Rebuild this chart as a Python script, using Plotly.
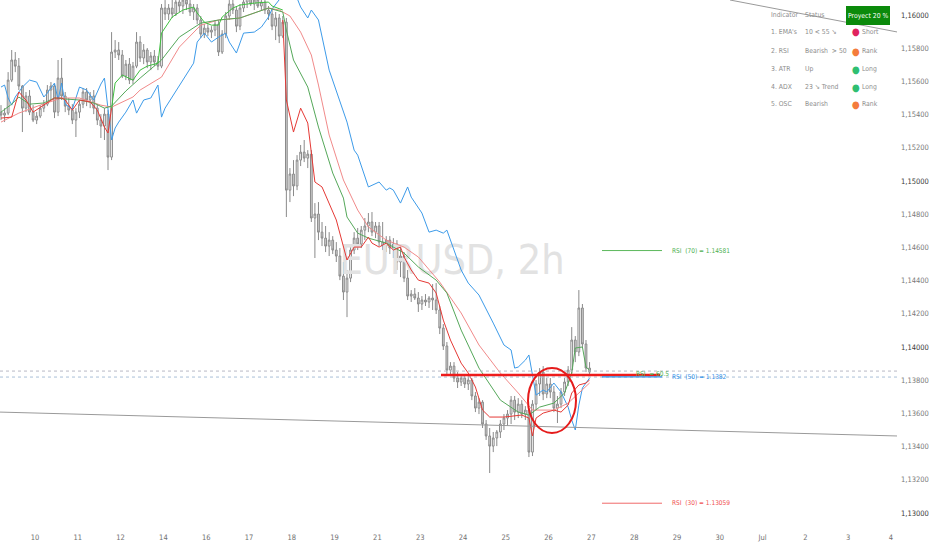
import plotly.graph_objects as go

FONT = "Liberation Sans Narrow, Arial Narrow, DejaVu Sans Condensed, Roboto Condensed, Liberation Sans, sans-serif"

# ---------------- price data (EURUSD 2h) ----------------
opens = [1.15415,1.15397,1.15409,1.15608,1.15729,1.15692,1.15572,1.15439,1.15512,1.15415,
         1.15367,1.15391,1.15439,1.15463,1.15548,1.15572,1.15415,1.15620,1.15512,1.15451,
         1.15427,1.15367,1.15415,1.15463,1.15536,1.15488,1.15512,1.15439,1.15367,1.15331,
         1.15403,1.15144,1.15777,1.15789,1.15759,1.15632,1.15704,1.15608,1.15692,1.15837,
         1.15741,1.15789,1.15717,1.15753,1.15717,1.15692,1.16042,1.16006,1.16042,1.16006,
         1.16078,1.16054,1.16090,1.16066,1.16018,1.16042,1.15970,1.15885,1.15921,1.15897,
         1.15909,1.15945,1.15777,1.15885,1.15994,1.16066,1.16030,1.15933,1.16042,1.16078,
         1.16102,1.16066,1.16090,1.16054,1.16078,1.16030,1.16006,1.15933,1.15982,1.15873,
         1.15957,1.14945,1.15042,1.14970,1.15126,1.15174,1.15138,1.15162,1.14777,1.14801,
         1.14692,1.14656,1.14608,1.14644,1.14584,1.14548,1.14427,1.14331,1.14415,1.14584,
         1.14656,1.14620,1.14704,1.14729,1.14753,1.14692,1.14729,1.14632,1.14608,1.14644,
         1.14596,1.14620,1.14512,1.14548,1.14415,1.14307,1.14319,1.14295,1.14259,1.14283,
         1.14271,1.14295,1.14283,1.14223,1.14114,1.14006,1.13861,1.13885,1.13813,1.13789,
         1.13813,1.13777,1.13801,1.13705,1.13632,1.13668,1.13536,1.13464,1.13403,1.13452,
         1.13488,1.13536,1.13572,1.13596,1.13680,1.13608,1.13656,1.13596,1.13620,1.13367,
         1.13656,1.13777,1.13849,1.13717,1.13777,1.13729,1.13632,1.13656,1.13729,1.13789,
         1.13861,1.14042,1.13970,1.14235,1.14018,1.13873]
highs = [1.15457,1.15439,1.15656,1.15789,1.15777,1.15741,1.15578,1.15536,1.15548,1.15457,
         1.15415,1.15457,1.15488,1.15578,1.15596,1.15584,1.15729,1.15741,1.15536,1.15500,
         1.15463,1.15439,1.15488,1.15560,1.15560,1.15536,1.15548,1.15463,1.15403,1.15439,
         1.15427,1.15897,1.15849,1.15837,1.15789,1.15729,1.15741,1.15717,1.15897,1.15873,
         1.15825,1.15801,1.15777,1.15789,1.15753,1.16066,1.16090,1.16066,1.16102,1.16114,
         1.16126,1.16114,1.16126,1.16102,1.16066,1.16066,1.15994,1.15945,1.15945,1.15933,
         1.15970,1.15970,1.15909,1.16018,1.16090,1.16102,1.16054,1.16066,1.16114,1.16126,
         1.16138,1.16114,1.16126,1.16102,1.16114,1.16054,1.16042,1.16018,1.16006,1.15994,
         1.15982,1.15078,1.15126,1.15156,1.15217,1.15247,1.15186,1.15186,1.14867,1.14873,
         1.14753,1.14729,1.14692,1.14668,1.14632,1.14596,1.14512,1.14464,1.14614,1.14692,
         1.14717,1.14729,1.14777,1.14807,1.14813,1.14753,1.14753,1.14753,1.14668,1.14668,
         1.14656,1.14644,1.14620,1.14572,1.14464,1.14343,1.14355,1.14331,1.14307,1.14319,
         1.14307,1.14379,1.14385,1.14247,1.14138,1.14030,1.13909,1.13909,1.13849,1.13837,
         1.13837,1.13825,1.13813,1.13729,1.13692,1.13680,1.13560,1.13512,1.13488,1.13500,
         1.13560,1.13596,1.13620,1.13705,1.13705,1.13692,1.13680,1.13644,1.13632,1.13680,
         1.13801,1.13873,1.13885,1.13813,1.13813,1.13765,1.13705,1.13753,1.13813,1.13885,
         1.14120,1.14066,1.14343,1.14259,1.14042,1.13909]
lows = [1.15367,1.15355,1.15397,1.15596,1.15656,1.15548,1.15295,1.15415,1.15397,1.15355,
        1.15343,1.15379,1.15415,1.15451,1.15488,1.15379,1.15391,1.15488,1.15415,1.15397,
        1.15343,1.15265,1.15379,1.15439,1.15451,1.15439,1.15403,1.15337,1.15259,1.15247,
        1.15066,1.15126,1.15741,1.15729,1.15620,1.15608,1.15584,1.15584,1.15680,1.15717,
        1.15704,1.15680,1.15668,1.15692,1.15668,1.15680,1.15970,1.15970,1.15982,1.15994,
        1.16018,1.16006,1.16030,1.15994,1.15970,1.15945,1.15861,1.15861,1.15873,1.15861,
        1.15873,1.15753,1.15765,1.15861,1.15970,1.16006,1.15897,1.15909,1.16018,1.16042,
        1.16054,1.16030,1.16042,1.16030,1.16006,1.15970,1.15909,1.15849,1.15831,1.15861,
        1.14783,1.14873,1.14909,1.14945,1.15090,1.15114,1.15078,1.14753,1.14536,1.14644,
        1.14608,1.14572,1.14548,1.14560,1.14512,1.14403,1.14283,1.14180,1.14391,1.14560,
        1.14584,1.14596,1.14644,1.14692,1.14668,1.14656,1.14608,1.14584,1.14572,1.14560,
        1.14536,1.14464,1.14421,1.14391,1.14283,1.14271,1.14283,1.14211,1.14223,1.14247,
        1.14235,1.14223,1.14199,1.14078,1.13982,1.13837,1.13837,1.13789,1.13753,1.13765,
        1.13753,1.13741,1.13680,1.13608,1.13596,1.13512,1.13440,1.13241,1.13367,1.13403,
        1.13452,1.13500,1.13524,1.13536,1.13560,1.13572,1.13572,1.13560,1.13337,1.13343,
        1.13620,1.13705,1.13680,1.13692,1.13692,1.13608,1.13542,1.13632,1.13705,1.13765,
        1.13837,1.13909,1.13945,1.13994,1.13849,1.13825]
closes = [1.15397,1.15409,1.15608,1.15729,1.15692,1.15572,1.15439,1.15512,1.15415,1.15367,
          1.15391,1.15439,1.15463,1.15548,1.15572,1.15415,1.15620,1.15512,1.15451,1.15427,
          1.15367,1.15415,1.15463,1.15536,1.15488,1.15512,1.15439,1.15367,1.15331,1.15403,
          1.15144,1.15777,1.15789,1.15759,1.15632,1.15704,1.15608,1.15692,1.15837,1.15741,
          1.15789,1.15717,1.15753,1.15717,1.15692,1.16042,1.16006,1.16042,1.16006,1.16078,
          1.16054,1.16090,1.16066,1.16018,1.16042,1.15970,1.15885,1.15921,1.15897,1.15909,
          1.15945,1.15777,1.15885,1.15994,1.16066,1.16030,1.15933,1.16042,1.16078,1.16102,
          1.16066,1.16090,1.16054,1.16078,1.16030,1.16006,1.15933,1.15982,1.15873,1.15957,
          1.14945,1.15042,1.14970,1.15126,1.15174,1.15138,1.15162,1.14777,1.14801,1.14692,
          1.14656,1.14608,1.14644,1.14584,1.14548,1.14427,1.14331,1.14415,1.14584,1.14656,
          1.14620,1.14704,1.14729,1.14753,1.14692,1.14729,1.14632,1.14608,1.14644,1.14596,
          1.14620,1.14512,1.14548,1.14415,1.14307,1.14319,1.14295,1.14259,1.14283,1.14271,
          1.14295,1.14283,1.14223,1.14114,1.14006,1.13861,1.13885,1.13813,1.13789,1.13813,
          1.13777,1.13801,1.13705,1.13632,1.13668,1.13536,1.13464,1.13403,1.13452,1.13488,
          1.13536,1.13572,1.13596,1.13680,1.13608,1.13656,1.13596,1.13620,1.13367,1.13656,
          1.13777,1.13849,1.13717,1.13777,1.13729,1.13632,1.13656,1.13729,1.13789,1.13861,
          1.14042,1.13970,1.14235,1.14018,1.13873,1.13849]
bars = list(range(len(closes)))

# ---------------- indicator lines (bar index, price) ----------------
fast_red_a_x = [0, 3, 5, 7, 9, 11, 15, 17, 18, 20, 22, 25, 27, 29, 30, 31]
fast_red_a_y = [1.15379, 1.15385, 1.15536, 1.15488, 1.15415, 1.15445, 1.15500, 1.15500, 1.15488,
                1.15427, 1.15488, 1.15476, 1.15427, 1.15325, 1.15289, 1.15439]

fast_green_x = [31, 32, 34, 37, 39, 41, 44, 45, 48, 51, 54, 55, 57, 59, 61, 62, 65, 67, 71, 75, 76, 79]
fast_green_y = [1.15439, 1.15590, 1.15638, 1.15608, 1.15668, 1.15692, 1.15710, 1.15891, 1.15988,
                1.16030, 1.16048, 1.16012, 1.15957, 1.15939, 1.15939, 1.15988, 1.16042, 1.16060,
                1.16072, 1.16078, 1.16054, 1.16030]

fast_red_b_x = [79, 80, 82, 84, 86, 87, 88, 90, 94, 97, 99, 101, 103, 104, 106, 108, 110, 112, 113, 115,
                117, 120, 122, 124, 126, 129, 131, 133, 135, 137, 141, 146, 148, 149, 150, 152, 155, 157,
                159, 160, 162, 164, 165]
fast_red_b_y = [1.15970, 1.15488, 1.15295, 1.15439, 1.15349, 1.15186, 1.14994, 1.14964, 1.14765, 1.14524,
                1.14602, 1.14602, 1.14662, 1.14626, 1.14602, 1.14626, 1.14584, 1.14602, 1.14542, 1.14464,
                1.14403, 1.14385, 1.14325, 1.14162, 1.14042, 1.13903, 1.13843, 1.13759, 1.13620, 1.13578,
                1.13578, 1.13590, 1.13572, 1.13464, 1.13572, 1.13602, 1.13620, 1.13608, 1.13650, 1.13723,
                1.13771, 1.13783, 1.13801]

mid_green_x = [0, 3, 5, 8, 12, 15, 18, 22, 26, 29, 31, 35, 39, 45, 50, 56, 61, 67, 75, 79, 80, 82, 86, 89,
               93, 96, 97, 100, 103, 108, 113, 117, 122, 125, 129, 134, 140, 145, 148, 151, 155, 158, 160,
               161, 163, 164, 165]
mid_green_y = [1.15415, 1.15463, 1.15506, 1.15463, 1.15470, 1.15500, 1.15494, 1.15488, 1.15470, 1.15439,
               1.15451, 1.15542, 1.15620, 1.15729, 1.15867, 1.15951, 1.15970, 1.15982, 1.16042, 1.16018,
               1.15909, 1.15729, 1.15566, 1.15325, 1.15048, 1.14897, 1.14783, 1.14686, 1.14656, 1.14626,
               1.14566, 1.14482, 1.14403, 1.14325, 1.14102, 1.13873, 1.13680, 1.13608, 1.13590, 1.13638,
               1.13662, 1.13723, 1.13843, 1.13994, 1.14000, 1.13879, 1.13861]

slow_pink_x = [0, 5, 11, 17, 22, 28, 31, 37, 39, 45, 50, 56, 61, 67, 75, 78, 81, 84, 87, 89, 92, 96, 100,
               103, 108, 113, 117, 123, 129, 134, 140, 145, 149, 155, 159, 162, 165]
slow_pink_y = [1.15355, 1.15409, 1.15457, 1.15500, 1.15500, 1.15457, 1.15445, 1.15506, 1.15548, 1.15626,
               1.15807, 1.15939, 1.15970, 1.15982, 1.16042, 1.16030, 1.15994, 1.15897, 1.15759, 1.15578,
               1.15277, 1.15006, 1.14825, 1.14723, 1.14644, 1.14602, 1.14542, 1.14391, 1.14205, 1.14012,
               1.13843, 1.13723, 1.13620, 1.13620, 1.13662, 1.13723, 1.13783]

blue_x = [0, 1, 2, 3, 4, 6, 8, 10, 12, 13, 15, 16, 17, 18, 20, 22, 24, 26, 28, 29, 31, 32, 33, 35, 37, 38,
          40, 42, 44, 45, 46, 48, 51, 54, 55, 57, 59, 61, 63, 64, 66, 68, 71, 73, 75, 76, 79, 81, 83, 84,
          86, 87, 89, 92, 97, 99, 100, 103, 106, 108, 109, 110, 112, 114, 115, 118, 120, 122, 124, 125,
          127, 129, 131, 134, 138, 141, 143, 144, 145, 147, 148, 149, 150, 152, 153, 155, 157, 159, 160,
          161, 162, 163, 165]
blue_y = [1.15566, 1.15578, 1.15500, 1.15457, 1.15506, 1.15566, 1.15608, 1.15596, 1.15506, 1.15530,
          1.15590, 1.15488, 1.15590, 1.15463, 1.15433, 1.15566, 1.15548, 1.15488, 1.15584, 1.15620,
          1.15247, 1.15319, 1.15355, 1.15415, 1.15488, 1.15409, 1.15488, 1.15500, 1.15578, 1.15385,
          1.15439, 1.15506, 1.15608, 1.15710, 1.15837, 1.15891, 1.15837, 1.15867, 1.15891, 1.15837,
          1.15771, 1.15891, 1.15897, 1.15927, 1.15988, 1.16036, 1.16120, 1.16210, 1.16102, 1.16048,
          1.15982, 1.16030, 1.15970, 1.15668, 1.15355, 1.15186, 1.15156, 1.14964, 1.14994, 1.14945,
          1.14958, 1.14945, 1.14867, 1.14964, 1.14903, 1.14807, 1.14692, 1.14704, 1.14686, 1.14704,
          1.14584, 1.14464, 1.14385, 1.14313, 1.14144, 1.14012, 1.13982, 1.13873, 1.13879, 1.13921,
          1.13952, 1.13831, 1.13710, 1.13741, 1.13729, 1.13783, 1.13729, 1.13638, 1.13560, 1.13500,
          1.13650, 1.13753, 1.13813]

# ---------------- levels / labels ----------------
rsi70_level = 1.14581
rsi50_level = 1.1382
rsi30_level = 1.13059
support_level = 1.13831
dotted_levels = [1.13855, 1.13819]
rsi_now = "60.5"

price_ticks = [1.130, 1.132, 1.134, 1.136, 1.138, 1.140, 1.142, 1.144, 1.146, 1.148,
               1.150, 1.152, 1.154, 1.156, 1.158, 1.160]
day_labels = ["10", "11", "12", "14", "16", "17", "18", "19", "21", "23", "24", "25", "26",
              "27", "28", "29", "30", "Jul", "2", "3", "4"]

table_rows = [("1. EMA's", "10 < 55 \u2198", "Short", "#e0245e"),
              ("2. RSI", "Bearish  > 50", "Rank", "#f47c3c"),
              ("3. ATR", "Up", "Long", "#2fbf71"),
              ("4. ADX", "23 \u2198 Trend", "Long", "#2fbf71"),
              ("5. OSC", "Bearish", "Rank", "#f47c3c")]

# ---------------- layout geometry ----------------
W, H = 932, 550
ML, MR, MT, MB = 0, 32, 0, 24
PW, PH = W - ML - MR, H - MT - MB
BAR_PX = 3.567          # pixel spacing of one 2h bar
X0_PX = 1.0             # pixel of bar 0
Y_TOP, Y_BOT = 1.160904, 1.129217

def bx(px):   # pixel x -> bar coordinate
    return (px - X0_PX) / BAR_PX

def pxp(px):  # pixel x -> paper
    return px / PW

def pyp(py):  # pixel y -> paper
    return 1 - py / PH

fig = go.Figure()

# watermark (below candles)
fig.add_trace(go.Scatter(x=[bx(452)], y=[1.14500], mode="text", text=["EURUSD, 2h"],
                         textfont=dict(family=FONT, size=41, color="#e2e2e2"),
                         hoverinfo="skip", showlegend=False))

fig.add_trace(go.Candlestick(
    x=bars, open=opens, high=highs, low=lows, close=closes,
    increasing=dict(line=dict(color="#8a8a8a", width=1), fillcolor="#ffffff"),
    decreasing=dict(line=dict(color="#8a8a8a", width=1), fillcolor="#d2d2d2"),
    whiskerwidth=0, showlegend=False))

def line(x, y, color, width=1.0):
    fig.add_trace(go.Scatter(x=x, y=y, mode="lines", line=dict(color=color, width=width),
                             hoverinfo="skip", showlegend=False))

line(blue_x, blue_y, "#3d9be9")
line(slow_pink_x, slow_pink_y, "#f18a8a")
line(mid_green_x, mid_green_y, "#55a85a")
line(fast_red_a_x, fast_red_a_y, "#e53935")
line(fast_green_x, fast_green_y, "#3fbf3f")
line(fast_red_b_x, fast_red_b_y, "#e53935")

shapes = []
# trend lines
shapes.append(dict(type="line", xref="x", yref="y", x0=bx(0), y0=1.13608, x1=bx(897), y1=1.13464,
                   line=dict(color="#9a9a9a", width=1)))
shapes.append(dict(type="line", xref="x", yref="y", x0=bx(730), y0=Y_TOP, x1=bx(897), y1=1.15898,
                   line=dict(color="#9a9a9a", width=1)))
# dotted levels
for lv, col in zip(dotted_levels, ["#b8b8c4", "#a9bfd8"]):
    shapes.append(dict(type="line", xref="paper", yref="y", x0=0, x1=1, y0=lv, y1=lv,
                       line=dict(color=col, width=1, dash="dot")))
# thick red support line
shapes.append(dict(type="line", xref="x", yref="y", x0=bx(441), x1=bx(660), y0=support_level,
                   y1=support_level, line=dict(color="#ee1c1c", width=2.5)))
# RSI level lines
for lv, col in [(rsi70_level, "#5cb85c"), (rsi50_level, "#2f8fe8"), (rsi30_level, "#f06a6a")]:
    shapes.append(dict(type="line", xref="x", yref="y", x0=bx(602), x1=bx(662), y0=lv, y1=lv,
                       line=dict(color=col, width=1.2 if lv == rsi50_level else 1)))
# red circle
shapes.append(dict(type="circle", xref="x", yref="y", x0=bx(528), x1=bx(576), y0=1.13482, y1=1.13873,
                   line=dict(color="#e51b1b", width=2)))
# table header box
shapes.append(dict(type="rect", xref="paper", yref="paper", x0=pxp(846), x1=pxp(890),
                   y0=pyp(25), y1=pyp(6), fillcolor="#0b8a0b", line=dict(width=0)))

ann = []
def text(x, y, s, color, size=7, xref="paper", yref="paper", xanchor="left"):
    ann.append(dict(x=x, y=y, xref=xref, yref=yref, text=s, showarrow=False, xanchor=xanchor,
                    yanchor="middle", font=dict(family=FONT, size=size, color=color)))

text(bx(670), rsi70_level, "RSI  (70) = %.5f" % rsi70_level, "#4caf50", xref="x", yref="y", size=6.5)
text(bx(670), rsi50_level, "RSI  (50) = %.4f" % rsi50_level, "#2f8fe8", xref="x", yref="y", size=6.5)
text(bx(670), rsi30_level, "RSI  (30) = %.5f" % rsi30_level, "#f05050", xref="x", yref="y", size=6.5)
text(bx(634), support_level + 0.00008, "RSI  = " + rsi_now, "#4caf50", xref="x", yref="y", size=6.5)

# table
TG = "#8d8d8d"
text(pxp(769), pyp(15), "Indicator", TG, size=6.8)
text(pxp(803), pyp(15), "Status", TG, size=6.8)
text(pxp(868), pyp(15.5), "Proyect 20 %", "#ffffff", size=6.8, xanchor="center")
row_y = [32, 51, 69, 87, 104]
for (name, status, sig, col), ry in zip(table_rows, row_y):
    text(pxp(769), pyp(ry), name, TG, size=6.8)
    text(pxp(803), pyp(ry), status, TG, size=6.8)
    text(pxp(850), pyp(ry), "\u25cf", col, size=10)
    text(pxp(860), pyp(ry), sig, TG, size=6.8)

tick_text = []
for v in price_ticks:
    s = ("%.5f" % v).replace(".", ",")
    if abs(v * 100 - round(v * 100)) < 1e-9:
        s = "<span style='color:#3a3a3a'>" + s + "</span>"
    tick_text.append(s)

fig.update_layout(
    width=W, height=H, margin=dict(l=ML, r=MR, t=MT, b=MB),
    paper_bgcolor="white", plot_bgcolor="white", showlegend=False,
    font=dict(family=FONT, size=7, color="#707070"),
    shapes=shapes, annotations=ann,
    xaxis=dict(range=[bx(0), bx(PW)], rangeslider=dict(visible=False), showgrid=False,
               zeroline=False, showline=False, tickvals=[bx(35 + 42.8 * k) for k in range(len(day_labels))],
               ticktext=day_labels, ticks="outside", ticklen=4, tickcolor="rgba(0,0,0,0)",
               tickfont=dict(family=FONT, size=7.5, color="#707070"), fixedrange=True),
    yaxis=dict(range=[Y_BOT, Y_TOP], side="right", showgrid=False, zeroline=False, showline=False,
               tickvals=price_ticks, ticktext=tick_text, ticks="",
               tickfont=dict(family=FONT, size=7.5, color="#7a7a7a"), fixedrange=True),
)

fig.write_html("out.html", config={"displayModeBar": False},
               post_script="document.body.style.margin='0px';")
